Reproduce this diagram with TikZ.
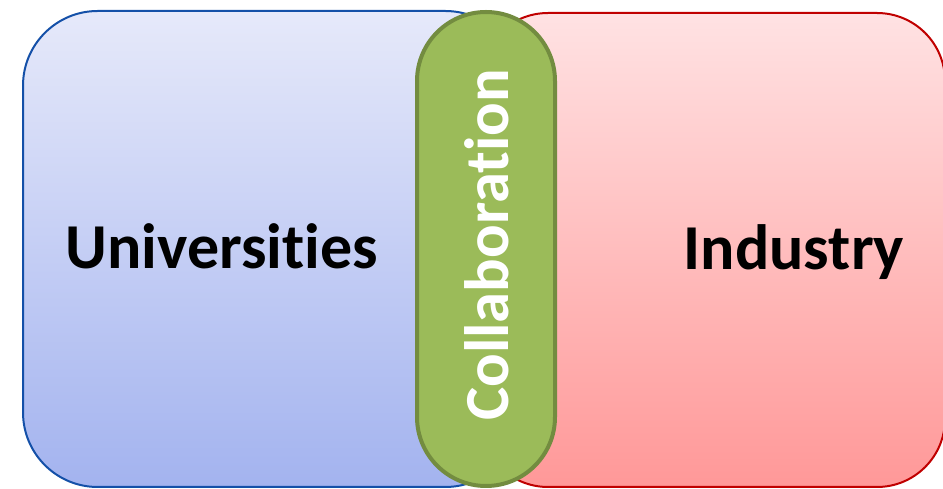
\documentclass[tikz,border=0pt]{standalone}
\usepackage{fontspec}
\setmainfont{Carlito}[Ligatures=NoCommon]
\usepackage{tikz}
\usetikzlibrary{positioning,backgrounds}

\definecolor{uniTop}{HTML}{E6E9FA}
\definecolor{uniBottom}{HTML}{A3B3EF}
\definecolor{uniLine}{HTML}{1450A8}
\definecolor{indTop}{HTML}{FFE2E3}
\definecolor{indBottom}{HTML}{FF9898}
\definecolor{indLine}{HTML}{C00000}
\definecolor{colFill}{HTML}{9BBB59}
\definecolor{colLine}{HTML}{738C40}

\begin{document}
\begin{tikzpicture}
[x=0.75pt, y=0.75pt,
% STYLES
% The region style is used to draw the two partner areas
region/.style={line width=1.5pt},
% The bridge style is used to draw the pill joining the areas
bridge/.style={fill=colFill, draw=colLine, line width=3pt, rounded corners=51.75pt},
% The title style is used to write the area names
title/.style={inner sep=0pt, anchor=base, font=\fontsize{48}{58}\selectfont\bfseries}]

\useasboundingbox (0,0) rectangle (943,489);

% Draw areas
\draw [region, draw=uniLine, top color=uniTop, bottom color=uniBottom, rounded corners=56pt]
  (23,478) rectangle (520,2);
\draw [region, draw=indLine, top color=indTop, bottom color=indBottom, rounded corners=51pt]
  (480,476) rectangle (945,2);
\draw [bridge] (417,477) rectangle (555,3);

%%%%%%%%%%%%%%%
% Labels
\node [title] (univ) at (222,220) {Universities};
\node [title] (industry) at (794,219) {Industry};
\node [title, text=white, rotate=90, font=\fontsize{47}{56}\selectfont\bfseries] (collab) at (508,244) {Collaboration};
%%%%%%%%%%%%%%%%

\end{tikzpicture}
\end{document}
